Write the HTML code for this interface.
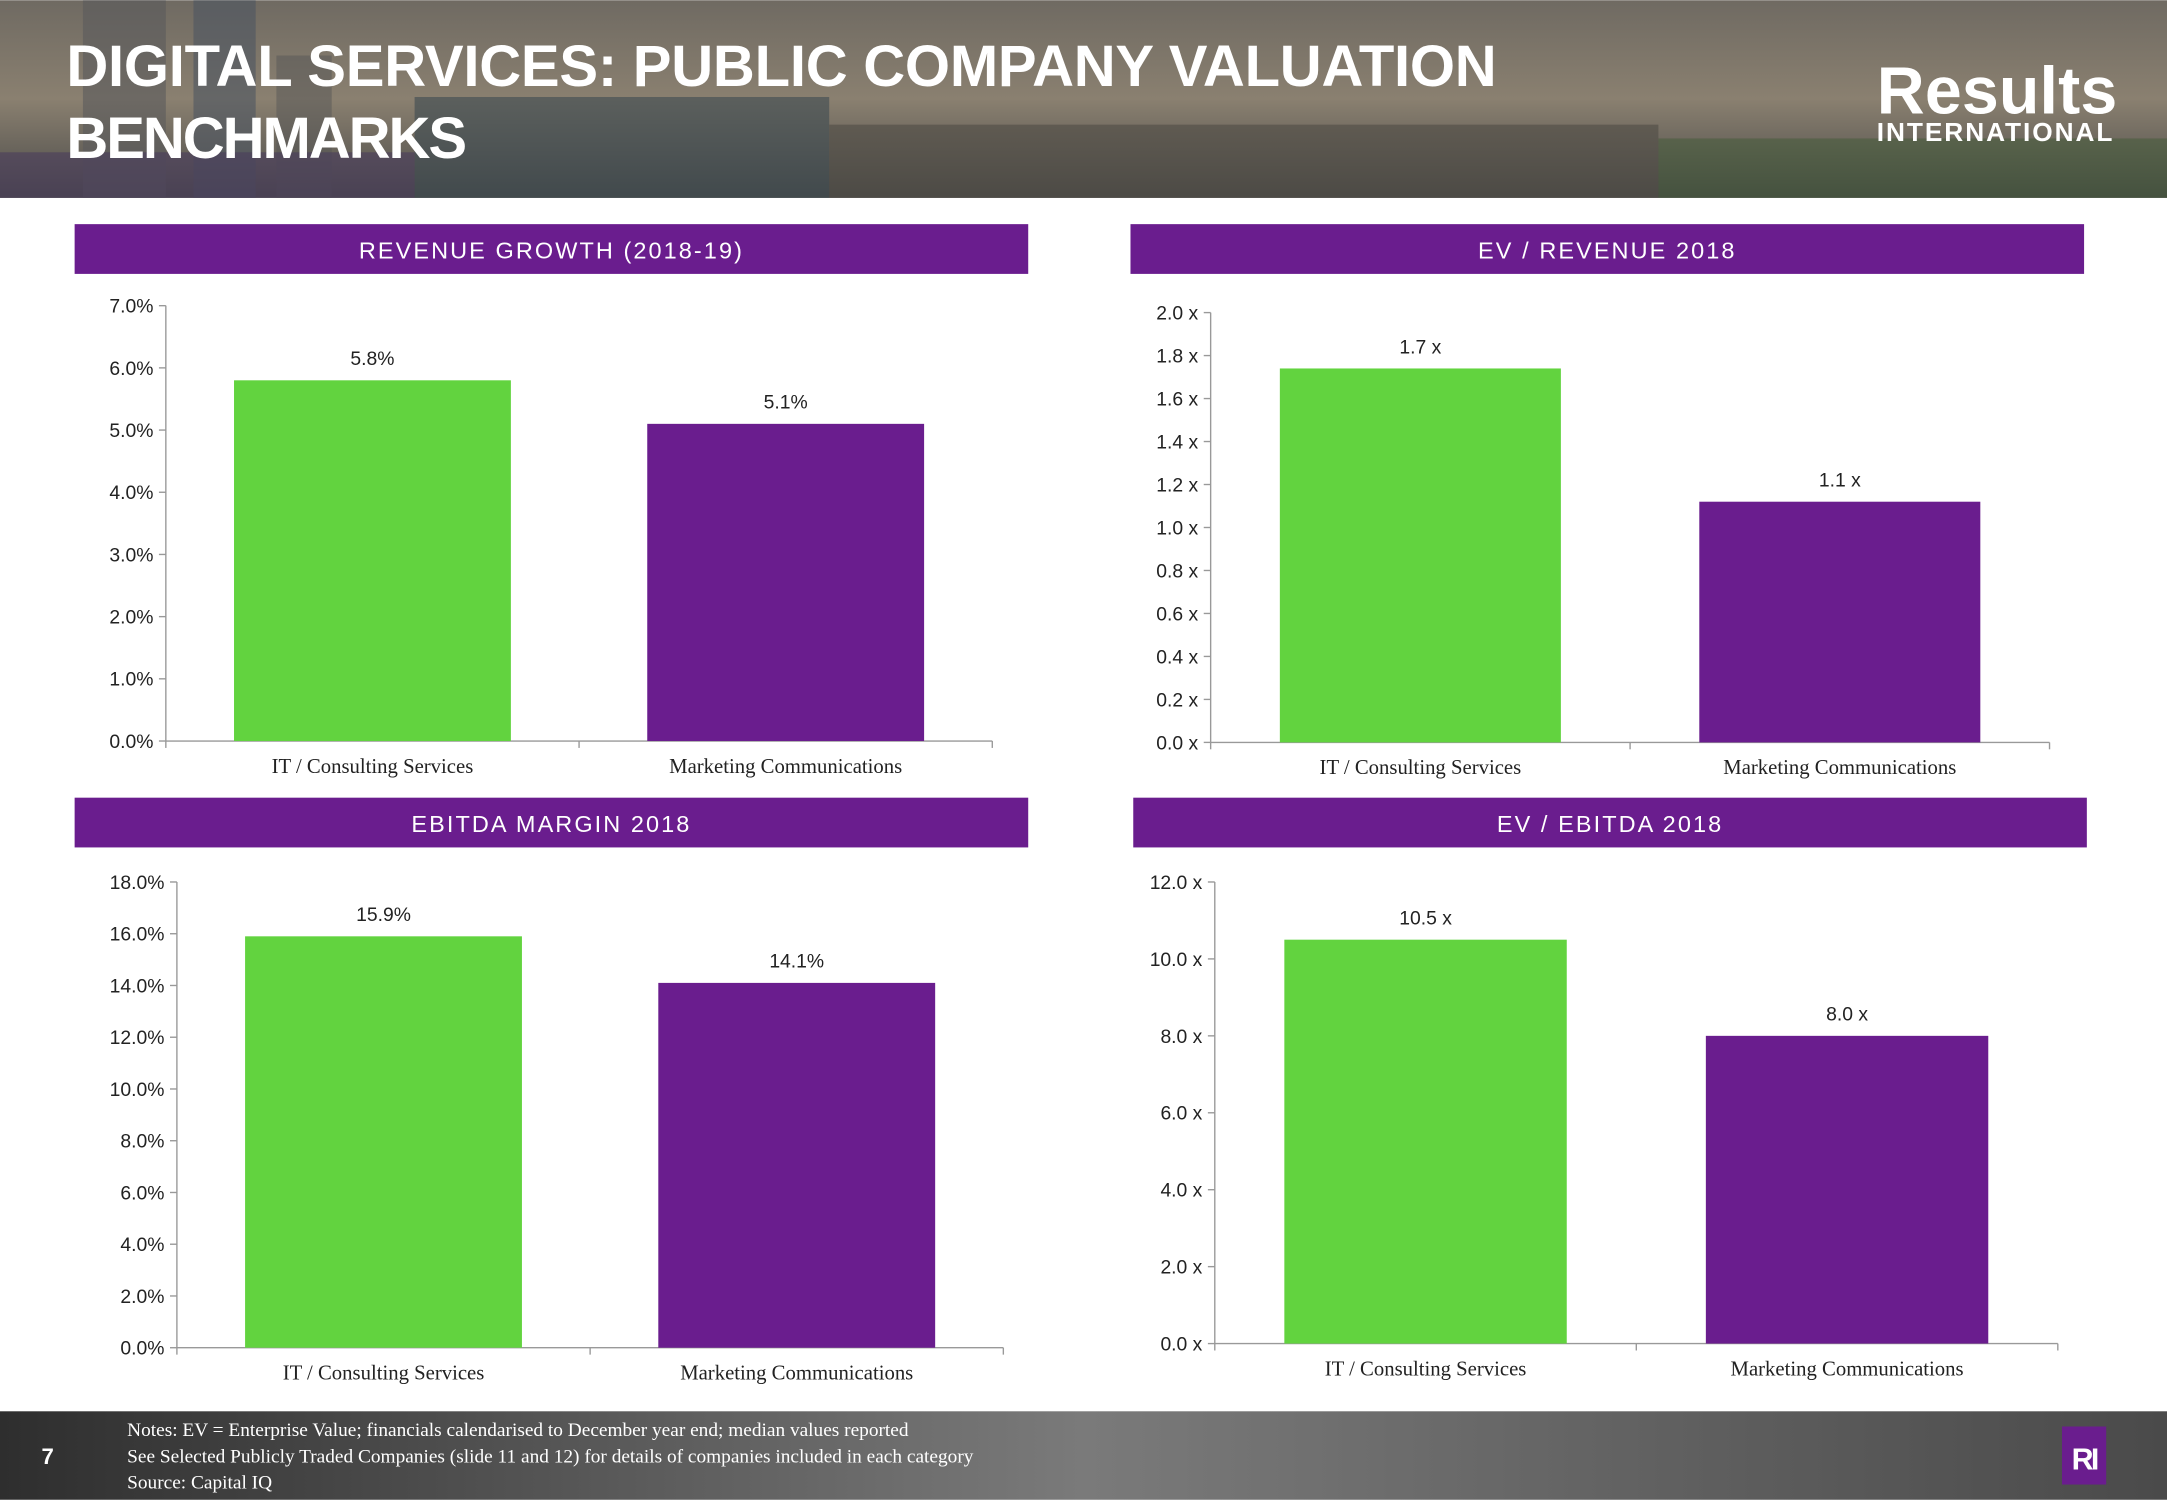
<!DOCTYPE html>
<html><head><meta charset="utf-8"><style>
html,body{margin:0;padding:0;background:#fff;}
svg{display:block;}
text{font-family:"Liberation Sans",sans-serif;}
</style></head><body>
<svg id="s" width="2167" height="1500" viewBox="0 0 1568 1085" xmlns="http://www.w3.org/2000/svg">
<defs>
<linearGradient id="sky" x1="0" y1="0" x2="0" y2="1"><stop offset="0" stop-color="#6f6a62"/><stop offset="0.5" stop-color="#8a8070"/><stop offset="1" stop-color="#4a4a48"/></linearGradient>
<linearGradient id="foot" x1="0" y1="0" x2="1" y2="0"><stop offset="0" stop-color="#2e2e2e"/><stop offset="0.5" stop-color="#7a7a7a"/><stop offset="1" stop-color="#4a4a4a"/></linearGradient>
</defs>
<g>
<rect x="0" y="0" width="1568" height="143" fill="url(#sky)"/>
<rect x="60" y="0" width="60" height="143" fill="#5a5a5c" opacity="0.6"/>
<rect x="140" y="0" width="45" height="143" fill="#4d5560" opacity="0.6"/>
<rect x="200" y="40" width="40" height="103" fill="#555" opacity="0.5"/>
<rect x="300" y="70" width="300" height="73" fill="#3c4a50" opacity="0.6"/>
<rect x="600" y="90" width="600" height="53" fill="#4f4b44" opacity="0.6"/>
<rect x="0" y="110" width="300" height="33" fill="#4a3c5c" opacity="0.6"/>
<rect x="1200" y="100" width="368" height="43" fill="#3f5a35" opacity="0.5"/>
<text x="48" y="62" font-size="42" font-weight="bold" fill="#fff" textLength="1035">DIGITAL SERVICES: PUBLIC COMPANY VALUATION</text>
<text x="48" y="114" font-size="42" font-weight="bold" fill="#fff" textLength="290">BENCHMARKS</text>
<text x="1358" y="82" font-size="48" font-weight="bold" fill="#fff" letter-spacing="-2" textLength="172">Results</text>
<text x="1358" y="102" font-size="19" font-weight="bold" fill="#fff" letter-spacing="-0.5" textLength="170">INTERNATIONAL</text>
</g>
<g id="charts"></g>
<g>
<rect x="0" y="1021" width="1568" height="64" fill="url(#foot)"/>
<text x="30" y="1059" font-size="16" font-weight="bold" fill="#fff">7</text>
<text style="font-family:'Liberation Serif',serif" font-size="14" fill="#fff">
<tspan x="92" y="1039">Notes: EV = Enterprise Value; financials calendarised to December year end; median values reported</tspan>
<tspan x="92" y="1058">See Selected Publicly Traded Companies (slide 11 and  12) for details of companies included in each category</tspan>
<tspan x="92" y="1077">Source: Capital IQ</tspan></text>
<rect x="1492" y="1032" width="32" height="42" fill="#6a1d8e"/>
<text x="1508" y="1063" font-size="22" font-weight="bold" fill="#fff" text-anchor="middle" letter-spacing="-2">RI</text>
</g>
</svg>
<script>
const categories = ["IT / Consulting Services", "Marketing Communications"];
const revGrowthValues = [5.8, 5.1];
const revGrowthTicks = [0,1,2,3,4,5,6,7];
const evRevValues = [1.74, 1.12];
const evRevTicks = [0,0.2,0.4,0.6,0.8,1.0,1.2,1.4,1.6,1.8,2.0];
const ebitdaMarginValues = [15.9, 14.1];
const ebitdaMarginTicks = [0,2,4,6,8,10,12,14,16,18];
const evEbitdaValues = [10.5, 8.0];
const evEbitdaTicks = [0,2,4,6,8,10,12];
const colors = ["#62d33f", "#6a1d8e"];

const NS = "http://www.w3.org/2000/svg";
const root = document.getElementById("charts");
function mk(tag, attrs, parent){const e=document.createElementNS(NS,tag);for(const k in attrs)e.setAttribute(k,attrs[k]);parent.appendChild(e);return e;}

function chart(cfg){
  const g = mk("g",{},root);
  
  
  const hb = mk("rect",{x:cfg.hx,y:cfg.hy,width:690,height:36,fill:"#6a1d8e"},g);
  
  
  const ht = mk("text",{x:cfg.hx+345,y:cfg.hy+25,"font-size":17,fill:"#fff","text-anchor":"middle","letter-spacing":"1.5"},g);
  ht.textContent = cfg.title;
  
  
  const max = cfg.ticks[cfg.ticks.length-1];
  const y = v => cfg.y0 - (v/max)*(cfg.y0-cfg.yTop);
  const bandW = (cfg.xEnd-cfg.ax)/categories.length;
  const xc = i => cfg.ax + bandW*(i+0.5);
  mk("line",{x1:cfg.ax,y1:cfg.yTop,x2:cfg.ax,y2:cfg.y0,stroke:"#999","stroke-width":1},g);
  mk("line",{x1:cfg.ax,y1:cfg.y0,x2:cfg.xEnd,y2:cfg.y0,stroke:"#999","stroke-width":1},g);
  for(let i=0;i<=categories.length;i++){
    mk("line",{x1:cfg.ax+bandW*i,y1:cfg.y0,x2:cfg.ax+bandW*i,y2:cfg.y0+5,stroke:"#999"},g);
  }
  cfg.ticks.forEach(t=>{
    mk("line",{x1:cfg.ax-5,y1:y(t),x2:cfg.ax,y2:y(t),stroke:"#999"},g);
    const tt = mk("text",{x:cfg.ax-9,y:y(t)+5,"font-size":14,fill:"#222","text-anchor":"end"},g);
    tt.textContent = cfg.fmt(t);
    
    
  });
  cfg.values.forEach((v,i)=>{
    const bw = bandW*0.67;
    const r = mk("rect",{x:xc(i)-bw/2,y:y(v),width:bw,height:cfg.y0-y(v),fill:colors[i]},g);
    
    
    const lt = mk("text",{x:xc(i),y:y(v)-11,"font-size":14,fill:"#222","text-anchor":"middle"},g);
    lt.textContent = cfg.lab(v);
    
    
    const ct = mk("text",{x:xc(i),y:cfg.y0+23,"font-size":15,fill:"#222","text-anchor":"middle",style:"font-family:'Liberation Serif',serif"},g);
    ct.textContent = categories[i];
    
    
  });
}
chart({name:"revenue-growth-chart",title:"REVENUE GROWTH (2018-19)",hx:54,hy:162,ax:120,xEnd:718,y0:536,yTop:221,ticks:revGrowthTicks,values:revGrowthValues,fmt:t=>t.toFixed(1)+"%",lab:v=>v.toFixed(1)+"%"});
chart({name:"ev-revenue-chart",title:"EV / REVENUE 2018",hx:818,hy:162,ax:876,xEnd:1483,y0:537,yTop:226,ticks:evRevTicks,values:evRevValues,fmt:t=>t.toFixed(1)+" x",lab:v=>v.toFixed(1)+" x"});
chart({name:"ebitda-margin-chart",title:"EBITDA MARGIN 2018",hx:54,hy:577,ax:128,xEnd:726,y0:975,yTop:638,ticks:ebitdaMarginTicks,values:ebitdaMarginValues,fmt:t=>t.toFixed(1)+"%",lab:v=>v.toFixed(1)+"%"});
chart({name:"ev-ebitda-chart",title:"EV / EBITDA 2018",hx:820,hy:577,ax:879,xEnd:1489,y0:972,yTop:638,ticks:evEbitdaTicks,values:evEbitdaValues,fmt:t=>t.toFixed(1)+" x",lab:v=>v.toFixed(1)+" x"});
</script>
</body></html>
